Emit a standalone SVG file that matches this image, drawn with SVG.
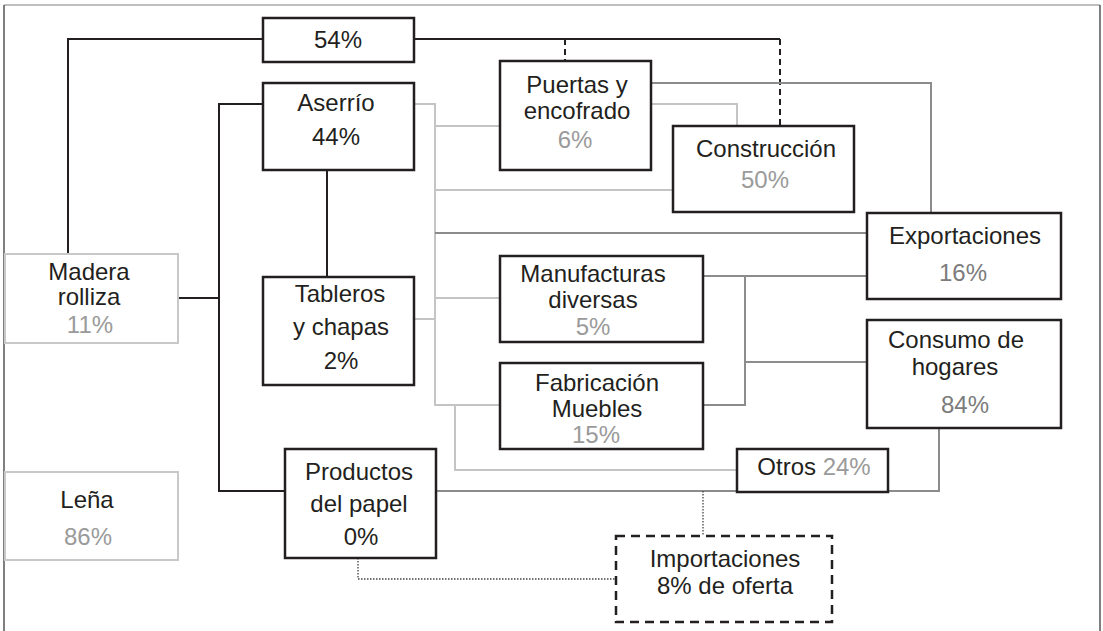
<svg xmlns="http://www.w3.org/2000/svg" width="1103" height="631" viewBox="0 0 1103 631">
<style>
text{font-family:"Liberation Sans",Arial,sans-serif;font-size:24px;fill:#231f20;text-anchor:middle}
.g{fill:#9a9a9a}
.g2{fill:#7c7c7c}
.box{fill:#fff;stroke:#231f20;stroke-width:2.5}
.lbox{fill:#fff;stroke:#c8c8c8;stroke-width:2}
.dbox{fill:#fff;stroke:#231f20;stroke-width:2.5;stroke-dasharray:9,6}
.k{fill:none;stroke:#231f20;stroke-width:2}
.kd{fill:none;stroke:#231f20;stroke-width:2;stroke-dasharray:6,4}
.lg{fill:none;stroke:#c4c4c4;stroke-width:2}
.mg{fill:none;stroke:#8c8c8c;stroke-width:2}
.dot{fill:none;stroke:#444;stroke-width:1.3;stroke-dasharray:1.5,1.5}
</style>
<rect width="1103" height="631" fill="#fff"/>
<g id="frame">
<line x1="4" y1="5" x2="1100" y2="5" stroke="#a8a8a8" stroke-width="1.5"/>
<line x1="4" y1="5" x2="4" y2="631" stroke="#555" stroke-width="1.5"/>
<line x1="1100" y1="5" x2="1100" y2="631" stroke="#555" stroke-width="1.5"/>
</g>
<g id="connectors">
<path class="k" d="M68,254 V39 H263"/>
<path class="k" d="M414,39 H780"/>
<path class="kd" d="M565,39 V61"/>
<path class="kd" d="M780,39 V126"/>
<path class="k" d="M178,298 H219"/>
<path class="k" d="M263,104 H219 V491 H285"/>
<path class="k" d="M327,170 V277"/>
<path class="lg" d="M414,104 H435 V405 H500"/>
<path class="lg" d="M414,319 H435"/>
<path class="lg" d="M435,126 H500"/>
<path class="lg" d="M435,190 H673"/>
<path class="lg" d="M435,298 H500"/>
<path class="lg" d="M455,405 V470 H737"/>
<path class="lg" d="M651,104 H737 V126"/>
<path class="mg" d="M435,233 H867"/>
<path class="mg" d="M651,83 H931 V213"/>
<path class="mg" d="M703,276 H867"/>
<path class="mg" d="M745,276 V405 H703"/>
<path class="mg" d="M745,362 H867"/>
<path class="mg" d="M436,491 H939 V428"/>
<path class="dot" d="M703,491 V536"/>
<path class="dot" d="M358,558 V579 H616"/>
</g>
<g id="n54">
<rect class="box" x="263" y="18" width="151" height="44"/>
<text x="338" y="48">54%</text>
</g>
<g id="aserrio">
<rect class="box" x="263" y="83" width="151" height="87"/>
<text x="336" y="111">Aserrío</text>
<text x="336" y="145">44%</text>
</g>
<g id="tableros">
<rect class="box" x="263" y="277" width="151" height="108"/>
<text x="340" y="302">Tableros</text>
<text x="341" y="335">y chapas</text>
<text x="341" y="369">2%</text>
</g>
<g id="madera">
<rect class="lbox" x="5" y="254" width="173" height="89"/>
<text x="89" y="280">Madera</text>
<text x="89" y="305">rolliza</text>
<text class="g" x="90" y="333">11%</text>
</g>
<g id="lena">
<rect class="lbox" x="5" y="472" width="173" height="88"/>
<text x="87" y="508">Leña</text>
<text class="g" x="88" y="545">86%</text>
</g>
<g id="productos">
<rect class="box" x="285" y="449" width="151" height="109"/>
<text x="359" y="480">Productos</text>
<text x="359" y="512">del papel</text>
<text x="361" y="545">0%</text>
</g>
<g id="puertas">
<rect class="box" x="500" y="61" width="151" height="109"/>
<text x="577" y="93">Puertas y</text>
<text x="577" y="119">encofrado</text>
<text class="g" x="575" y="148">6%</text>
</g>
<g id="construccion">
<rect class="box" x="673" y="126" width="181" height="86"/>
<text x="766" y="157">Construcción</text>
<text class="g" x="765" y="188">50%</text>
</g>
<g id="exportaciones">
<rect class="box" x="867" y="213" width="194" height="86"/>
<text x="965" y="244">Exportaciones</text>
<text class="g2" x="963" y="281">16%</text>
</g>
<g id="consumo">
<rect class="box" x="867" y="320" width="194" height="108"/>
<text x="956" y="348">Consumo de</text>
<text x="955" y="375">hogares</text>
<text class="g2" x="965" y="413">84%</text>
</g>
<g id="manufacturas">
<rect class="box" x="500" y="256" width="203" height="86"/>
<text x="593" y="282">Manufacturas</text>
<text x="593" y="308">diversas</text>
<text class="g" x="593" y="335">5%</text>
</g>
<g id="fabricacion">
<rect class="box" x="500" y="363" width="203" height="86"/>
<text x="597" y="391">Fabricación</text>
<text x="597" y="417">Muebles</text>
<text class="g" x="596" y="443">15%</text>
</g>
<g id="otros">
<rect class="box" x="737" y="449" width="151" height="43"/>
<text x="814" y="475">Otros <tspan class="g">24%</tspan></text>
</g>
<g id="importaciones">
<rect class="dbox" x="616" y="536" width="216" height="86"/>
<text x="725" y="567">Importaciones</text>
<text x="725" y="594">8% de oferta</text>
</g>
</svg>
